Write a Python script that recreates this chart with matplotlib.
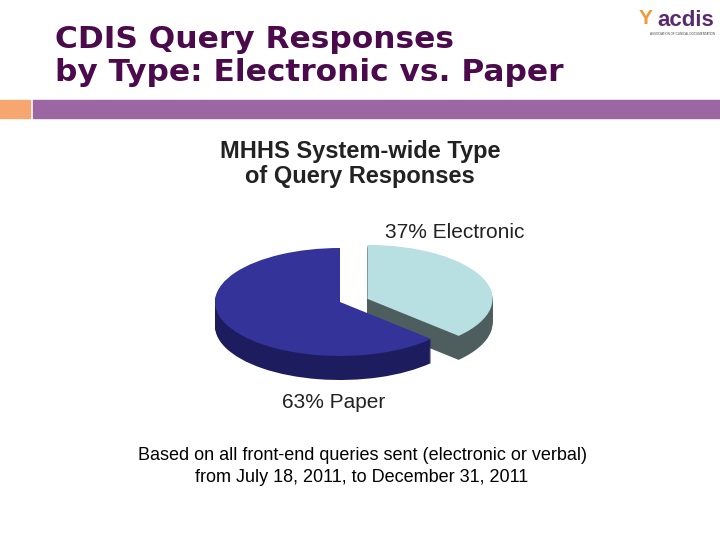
import matplotlib
matplotlib.use('Agg')
import matplotlib.pyplot as plt
from matplotlib.patches import Wedge, Rectangle
from matplotlib.transforms import Affine2D
import numpy as np

# Data
labels = ['Electronic', 'Paper']
shares = [37, 63]
top_colors = ['#b8dfe2', '#333399']
side_colors = ['#4e5e5e', '#1c1c5e']

plt.rcParams['font.family'] = ['Liberation Sans', 'DejaVu Sans']

fig = plt.figure(figsize=(7.2, 5.4), dpi=100)
ax = fig.add_axes([0, 0, 1, 1])
ax.set_xlim(0, 720)
ax.set_ylim(540, 0)
ax.axis('off')

# Slide header
ax.text(55, 56, 'CDIS Query Responses\nby Type: Electronic vs. Paper', fontsize=22.5,
        fontweight='heavy', family='DejaVu Sans', color='#4b0a4b', va='center', ha='left',
        linespacing=1.2)
ax.add_patch(Rectangle((0, 100), 30, 18, color='#f7a66f'))
ax.add_patch(Rectangle((33, 100), 687, 18, color='#9b66a1'))
ax.text(686, 20, 'acdis', fontsize=16, fontweight='bold', color='#5a2a6e', ha='center', va='center')
ax.text(646, 18, 'Y', fontsize=15, fontweight='bold', color='#f29a3a', ha='center', va='center')
ax.text(682, 34, 'ASSOCIATION OF CLINICAL DOCUMENTATION', fontsize=2.2, color='#444444',
        ha='center', va='center')

# Chart title
ax.text(360, 164, 'MHHS System-wide Type\nof Query Responses', fontsize=17, fontweight='bold',
        color='#222222', ha='center', va='center', linespacing=1.1)

# 3D-ish pie
cx, cy = 340, 302
rx, ry = 125, 54
depth = 24
angles = np.cumsum([0] + shares) / 100 * 360
# electronic: from 12 o'clock clockwise by its share
spans = [(90 - angles[1], 90), (90, 90 - angles[1] + 360)]
offsets = []
for (t1, t2), s in zip(spans, [1, 0]):
    mid = np.radians((t1 + t2) / 2)
    offsets.append((s * 30 * np.cos(mid), -s * 30 * np.sin(mid) * ry / rx * 0.6))

for i, ((t1, t2), (dx, dy)) in enumerate(zip(spans, offsets)):
    for d in range(depth, 0, -1):
        tr = Affine2D().scale(1, -ry / rx).translate(cx + dx, cy + dy + d) + ax.transData
        ax.add_patch(Wedge((0, 0), rx, t1, t2, facecolor=side_colors[i],
                           edgecolor='none', transform=tr))
    tr = Affine2D().scale(1, -ry / rx).translate(cx + dx, cy + dy) + ax.transData
    ax.add_patch(Wedge((0, 0), rx, t1, t2, facecolor=top_colors[i],
                       edgecolor='none', transform=tr))

ax.text(455, 233, f'{shares[0]}% {labels[0]}', fontsize=15, color='#222222', ha='center', va='center')
ax.text(334, 402, f'{shares[1]}% {labels[1]}', fontsize=15, color='#222222', ha='center', va='center')

# Caption
ax.text(362, 455, 'Based on all front-end queries sent (electronic or verbal)', fontsize=13,
        ha='center', va='center', color='black')
ax.text(362, 477, 'from July 18, 2011, to December 31, 2011', fontsize=13,
        ha='center', va='center', color='black')

fig.savefig('out.png', dpi=100)
